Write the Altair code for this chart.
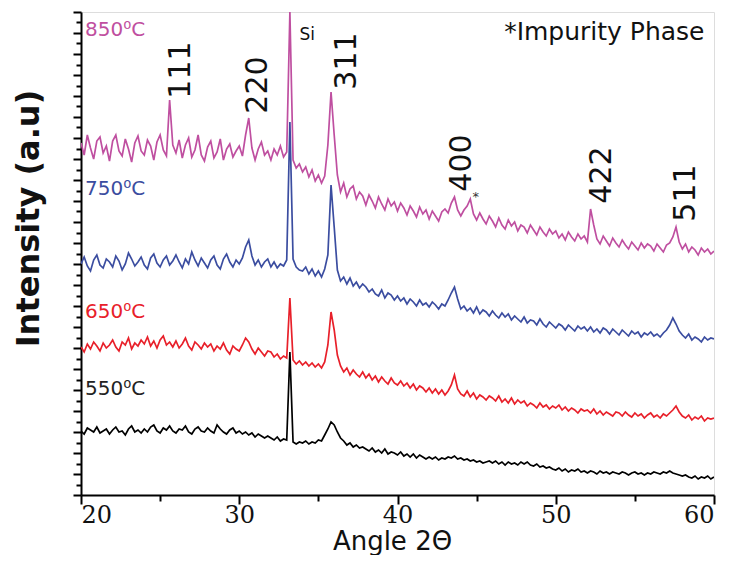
import altair as alt
import numpy as np
import pandas as pd

# 2-theta sampling grid (degrees)
ANGLE = np.round(20 + 0.2 * np.arange(201), 1)

# Intensities (a.u., offset-stacked as in the figure)
I_550 = [
    64, 61, 67, 65, 63, 68, 62, 64, 66, 61,
    65, 68, 63, 64, 60, 66, 69, 63, 65, 62,
    66, 63, 68, 70, 64, 62, 67, 65, 69, 64,
    62, 66, 65, 69, 63, 61, 66, 68, 64, 63,
    67, 64, 62, 70, 66, 63, 61, 65, 67, 62,
    64, 61, 63, 60, 62, 58, 61, 59, 57, 59,
    57, 55, 58, 54, 56, 55, 143, 53, 51, 53,
    52, 54, 51, 53, 52, 55, 54, 60, 66, 73,
    70, 63, 57, 54, 50, 52, 48, 50, 47, 48,
    46, 44, 47, 43, 45, 42, 46, 41, 43, 42,
    40, 43, 39, 41, 38, 41, 37, 40, 38, 36,
    38, 36, 38, 35, 37, 36, 38, 37, 39, 36,
    37, 35, 36, 34, 35, 33, 34, 32, 33, 34,
    32, 34, 31, 33, 30, 33, 31, 32, 30, 33,
    31, 33, 30, 29, 31, 28, 29, 27, 28, 26,
    25, 27, 24, 26, 23, 25, 24, 26, 23, 24,
    22, 24, 23, 21, 24, 22, 23, 21, 23, 22,
    21, 23, 22, 20, 22, 23, 21, 22, 20, 22,
    21, 23, 22, 21, 23, 22, 24, 22, 21, 20,
    19, 20, 18, 17, 19, 16, 18, 17, 19, 16,
    18,
]
I_650 = [
    148, 143, 151, 146, 153, 149, 144, 152, 147, 150,
    155, 148, 144, 153, 150, 157, 146, 152, 149, 155,
    151, 158, 149, 154, 147, 155, 159, 150, 153, 148,
    154, 147, 151, 157, 149, 145, 153, 150, 146, 152,
    148, 151, 144, 149, 146, 152, 145, 141, 149, 146,
    144, 150, 157, 153, 146, 141, 147, 143, 139, 144,
    143, 138, 141, 136, 139, 137, 197, 135, 131, 134,
    130, 133, 129, 132, 128, 131, 127, 133, 150, 183,
    165, 140, 129, 123, 127, 120, 125, 121, 118, 123,
    117, 121, 115, 119, 113, 118, 114, 111, 117, 112,
    110, 114, 109, 112, 107, 111, 105, 109, 107, 103,
    107, 102, 106, 101, 105, 100, 104, 110, 120, 106,
    101, 99, 104, 98, 102, 96, 100, 98, 95, 99,
    97, 94, 99, 93, 96, 92, 97, 91, 95, 92,
    94, 89, 92, 90, 87, 92, 88, 90, 86, 89,
    87, 90, 85, 88, 84, 87, 85, 82, 86, 84,
    85, 82, 86, 81, 84, 80, 83, 81, 79, 83,
    82, 79, 83, 80, 78, 82, 79, 81, 77, 80,
    82, 78, 80, 77, 81, 79, 82, 85, 89, 83,
    79, 77, 80, 75, 78, 76, 79, 74, 77, 76,
    77,
]
I_750 = [
    231, 238, 229, 224, 235, 240, 230, 227, 236, 233,
    228, 239, 234, 225, 231, 242, 236, 229, 233, 238,
    230, 226, 237, 241, 232, 228, 235, 239, 230, 234,
    240, 233, 227, 236, 231, 243, 235, 229, 237, 232,
    227, 235, 239, 230, 226, 236, 241, 233, 228, 235,
    231, 237, 248, 255, 239, 230, 235, 228, 233, 236,
    228, 233, 227, 231, 229, 235, 373, 236, 228, 225,
    224, 228, 221, 226, 219, 224, 218, 226, 240, 310,
    268, 225, 214, 218, 211, 217, 209, 213, 207, 211,
    208, 203, 206, 201, 199, 205, 197, 202, 200, 195,
    199, 194, 197, 191, 196, 193, 189, 195, 190, 192,
    188, 193, 190, 186, 191, 189, 195, 202, 208, 196,
    186, 189, 184, 187, 182, 188, 181, 185, 183, 179,
    184, 180, 177, 182, 178, 181, 175, 179, 176, 173,
    178, 172, 175, 174, 170, 176, 171, 168, 173, 170,
    167, 171, 169, 165, 170, 167, 164, 169, 166, 168,
    164, 168, 163, 166, 162, 167, 165, 161, 166, 163,
    160, 165, 162, 159, 164, 161, 163, 158, 162, 160,
    163, 159, 161, 158, 162, 165, 170, 177, 171, 164,
    160, 157, 161, 155, 158, 156, 153, 158, 155, 157,
    156,
]
I_850 = [
    352, 340, 360, 347, 336, 354, 358, 342, 349, 334,
    354, 360, 344, 339, 356, 346, 333, 352, 359, 344,
    340, 355, 349, 335, 353, 360, 345, 339, 395, 350,
    342, 355, 337, 350, 357, 338, 345, 360, 340, 334,
    348, 354, 337, 343, 356, 335, 346, 351, 338, 344,
    349, 339, 360, 377, 347, 335, 346, 353, 340, 344,
    335, 346, 340, 349, 338, 343, 483, 335, 327, 331,
    323, 328, 318, 325, 314, 320, 312, 319, 350, 403,
    360, 320, 303, 312, 298, 306, 309, 296, 303, 299,
    290, 300, 294, 287, 298, 291, 285, 296, 289, 293,
    284, 292, 287, 280, 289, 284, 278, 288, 281, 285,
    276, 284, 279, 274, 283, 286, 282, 292, 298, 285,
    279, 285, 289, 296, 281, 275, 282, 276, 271, 279,
    274, 268, 277, 270, 266, 275, 269, 273, 264, 270,
    268, 262, 270, 265, 260, 268, 263, 259, 266, 261,
    264, 257, 261, 255, 263, 258, 254, 261, 256, 259,
    253, 286, 270, 256, 251, 259, 254, 249, 257, 252,
    248, 255, 250, 246, 253, 249, 245, 252, 247, 251,
    249, 244, 251, 247, 243, 250, 252, 258, 268, 253,
    246, 251, 243, 248, 245, 240, 247, 243, 246, 241,
    244,
]

SERIES = ["850", "750", "650", "550"]
COLORS = ["#BF4FA0", "#3B4DA0", "#E8202A", "#000000"]
VALUES = [I_850, I_750, I_650, I_550]
for v in VALUES:
    assert len(v) == len(ANGLE), len(v)

# Temperature labels
TEMP_TEXT = ["850⁰C", "750⁰C", "650⁰C", "550⁰C"]
TEMP_X = [20.25, 20.25, 20.25, 20.25]
TEMP_Y = [465, 306, 183, 106]
TEMP_COLORS = ["#BF4FA0", "#3B4DA0", "#E8202A", "#222222"]

# Miller-index labels (rotated)
HKL_TEXT = ["111", "220", "311", "400", "422", "511"]
HKL_X = [26.3, 31.2, 36.8, 44.1, 52.9, 58.2]
HKL_Y = [425, 410, 434, 332, 320, 302]

rows = []
for s, vals in zip(SERIES, VALUES):
    for a, v in zip(ANGLE, vals):
        rows.append({"angle": float(a), "intensity": v, "series": s})
df = pd.DataFrame(rows)

SERIF = "DejaVu Serif"

x_enc = alt.X(
    "angle:Q",
    scale=alt.Scale(domain=[20, 60], nice=False, zero=False),
    axis=alt.Axis(
        values=list(range(20, 61, 5)),
        labelExpr="datum.value % 10 === 0 ? datum.label : ''",
        tickSize={"condition": {"test": "datum.value % 10 === 0", "value": 9}, "value": 6},
        tickWidth=2, tickColor="black", domainColor="black", domainWidth=2,
        labelFont=SERIF, labelFontSize=24, labelColor="#111111",
        labelPadding=-1, grid=False,
        title="Angle 2Θ", titleFont="DejaVu Sans", titleFontSize=26,
        titleFontWeight="normal", titleColor="#111111",
        titleX=311, titleY=54, titleAlign="center", titleBaseline="alphabetic",
    ),
)
y_enc = alt.Y(
    "intensity:Q",
    scale=alt.Scale(domain=[0, 483], nice=False, zero=False),
    axis=alt.Axis(
        values=[round(i * 10.5, 1) for i in range(47)],
        labels=False,
        tickSize={"condition": {"test": "datum.value % 21 === 0", "value": 8}, "value": 5},
        tickWidth=2, tickColor="black", domainColor="black", domainWidth=2,
        grid=False,
        title="Intensity (a.u)", titleFont="DejaVu Sans", titleFontSize=32,
        titleFontWeight="bold", titleColor="#111111",
        titleX=-53, titleY=206, titleAngle=270, titleAlign="center",
        titleBaseline="middle",
    ),
)

layers = []
for s, c in zip(SERIES, COLORS):
    layers.append(
        alt.Chart(df).transform_filter(alt.datum.series == s)
        .mark_line(color=c, strokeWidth=1.7, clip=True)
        .encode(x=x_enc, y=y_enc)
    )

temp_df = pd.DataFrame({"angle": TEMP_X, "intensity": TEMP_Y, "label": TEMP_TEXT, "c": TEMP_COLORS})
layers.append(
    alt.Chart(temp_df).mark_text(align="left", baseline="middle", font="DejaVu Sans", fontSize=20)
    .encode(x=x_enc, y=y_enc, text="label:N", color=alt.Color("c:N", scale=None))
)

hkl_df = pd.DataFrame({"angle": HKL_X, "intensity": HKL_Y, "label": HKL_TEXT})
layers.append(
    alt.Chart(hkl_df).mark_text(angle=270, align="center", baseline="middle",
                                font="DejaVu Sans", fontSize=30, color="#111111")
    .encode(x=x_enc, y=y_enc, text="label:N")
)

misc_df = pd.DataFrame({"angle": [34.3], "intensity": [460], "label": ["Si"]})
layers.append(
    alt.Chart(misc_df).mark_text(align="center", baseline="middle",
                                 font="DejaVu Sans", fontSize=17, color="#111111")
    .encode(x=x_enc, y=y_enc, text="label:N")
)

star_df = pd.DataFrame({"angle": [44.95], "intensity": [298], "label": ["*"]})
layers.append(
    alt.Chart(star_df).mark_text(align="center", baseline="middle",
                                 font="DejaVu Sans", fontSize=13, color="#333333")
    .encode(x=x_enc, y=y_enc, text="label:N")
)

imp_df = pd.DataFrame({"angle": [59.4], "intensity": [463], "label": ["*Impurity Phase"]})
layers.append(
    alt.Chart(imp_df).mark_text(align="right", baseline="middle",
                                font="DejaVu Sans", fontSize=25, color="#111111")
    .encode(x=x_enc, y=y_enc, text="label:N")
)

chart = (
    alt.layer(*layers)
    .properties(
        width=633, height=483,
        autosize=alt.AutoSizeParams(type="none"),
        padding={"left": 73, "top": 4, "right": 8, "bottom": 60},
    )
    .configure_view(stroke="black", strokeWidth=2)
    .configure_axisX(labelFont=SERIF)
    .configure(background="white")
)

chart.save("out.html", embed_options={"renderer": "svg", "actions": False})
